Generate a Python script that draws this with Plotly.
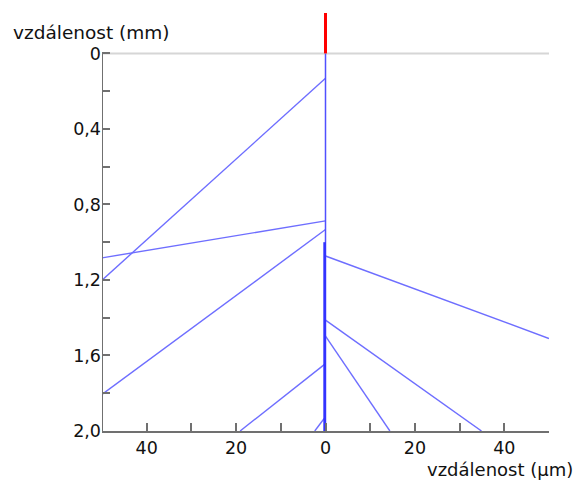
import plotly.graph_objects as go

# Data (x in µm, y = depth in mm)
ray_x = [[0, -50], [0, -50], [0, -50], [0, 50], [0, 34.9], [0, 14.4], [0, -19.1], [-0.3, -2.4]]
ray_y = [[0.132, 1.201], [0.887, 1.083], [0.933, 1.806], [1.073, 1.51],
         [1.413, 2.0], [1.498, 2.0], [1.643, 2.0], [1.934, 2.0]]
axis_x = [0, 0]
axis_y = [0, 2.0]
core_x = [-0.2, -0.2]
core_y = [1.0, 2.0]
marker_x = [0, 0]
marker_y = [-0.214, 0]

x_tickvals = [-50, -40, -30, -20, -10, 0, 10, 20, 30, 40, 50]
x_ticktext = ["", "40", "", "20", "", "0", "", "20", "", "40", ""]
y_tickvals = [0, 0.2, 0.4, 0.6, 0.8, 1.0, 1.2, 1.4, 1.6, 1.8, 2.0]
y_ticktext = ["0", "", "0,4", "", "0,8", "", "1,2", "", "1,6", "", "2,0"]

FONT = "DejaVu Sans"
AXC = "#707070"
TXT = "#111111"

fig = go.Figure()
for xs, ys in zip(ray_x, ray_y):
    fig.add_trace(go.Scatter(x=xs, y=ys, mode="lines",
                             line=dict(color="rgb(110,110,255)", width=1.4),
                             hoverinfo="skip", showlegend=False))
fig.add_trace(go.Scatter(x=axis_x, y=axis_y, mode="lines",
                         line=dict(color="rgb(80,80,255)", width=1.5), showlegend=False))
fig.add_trace(go.Scatter(x=core_x, y=core_y, mode="lines",
                         line=dict(color="rgb(50,50,255)", width=2.6), showlegend=False))
fig.add_trace(go.Scatter(x=marker_x, y=marker_y, mode="lines",
                         line=dict(color="red", width=3), showlegend=False))

# top reference line at depth 0 and left axis line from 0 to 2
fig.add_shape(type="line", xref="x", yref="y", x0=-50, x1=50, y0=0, y1=0,
              line=dict(color="#d6d6d6", width=2), layer="below")
fig.add_shape(type="line", xref="x", yref="y", x0=-50, x1=-50, y0=0, y1=2.0,
              line=dict(color=AXC, width=2), layer="above")

fig.update_xaxes(range=[-50, 50], tickvals=x_tickvals, ticktext=x_ticktext,
                 ticks="inside", ticklen=8, tickwidth=1.5, tickcolor=AXC,
                 showline=True, linecolor=AXC, linewidth=2, showgrid=False,
                 zeroline=False, tickfont=dict(family=FONT, size=17.5, color=TXT))
fig.update_yaxes(range=[2.0, -0.214], tickvals=y_tickvals, ticktext=y_ticktext,
                 ticks="inside", ticklen=8, tickwidth=1.5, tickcolor=AXC,
                 showline=False, showgrid=False, zeroline=False,
                 tickfont=dict(family=FONT, size=17.5, color=TXT))

# page body has an 8px margin, so figure coordinates = page coordinates - 8
fig.add_annotation(text="vzdálenost (mm)", xref="paper", yref="paper",
                   x=(3 - 93.7) / 447.6, y=(422.7 - 24) / 417.7, xanchor="left", yanchor="middle",
                   showarrow=False, font=dict(family=FONT, size=18.5, color=TXT))
fig.add_annotation(text="vzdálenost (µm)", xref="paper", yref="paper",
                   x=(417 - 93.7) / 447.6, y=(422.7 - 461) / 417.7, xanchor="left", yanchor="middle",
                   showarrow=False, font=dict(family=FONT, size=18, color=TXT))

fig.update_layout(width=576, height=473,
                  margin=dict(l=93.7, r=34.7, t=5, b=50.3, autoexpand=False),
                  plot_bgcolor="white", paper_bgcolor="white")

fig.write_html("out.html")
